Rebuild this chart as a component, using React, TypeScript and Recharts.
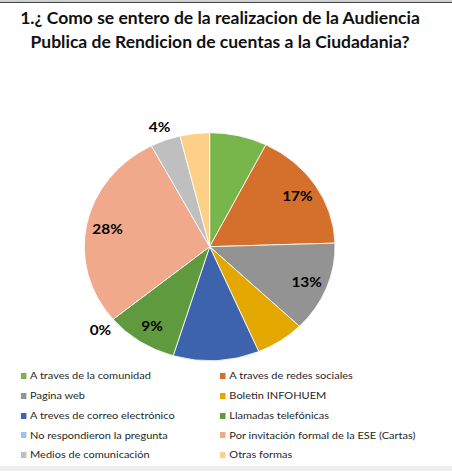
import { Legend, Pie, PieChart, Cell } from 'recharts';

const categories = [
  'A traves de la comunidad',
  'A traves de redes sociales',
  'Pagina web',
  'Boletin INFOHUEM',
  'A treves de correo electrónico',
  'Llamadas telefónicas',
  'No respondieron la pregunta',
  'Por invitación formal de la ESE (Cartas)',
  'Medios de comunicación',
  'Otras formas',
];
const values = [7.4, 17.1, 12.8, 6.3, 11.1, 9.3, 0, 28.3, 3.9, 3.8];
const showLabel = [false, true, true, false, false, true, true, true, true, false];
const colors = [
  '#78B54A', '#D4702B', '#939393', '#E2A800', '#3E63AD',
  '#5F9A3E', '#9DC3E6', '#F0A98A', '#BFBFBF', '#FDD088',
];

const data = categories.map((name, i) => ({ name, value: values[i] }));

const SX = 1.1; // the reference is stretched sideways
const RAD = Math.PI / 180;

const renderLabel = (props: any) => {
  const { cx, cy, midAngle, outerRadius, percent, index } = props;
  if (!showLabel[index]) return null;
  const k = percent < 0.05 ? 1.13 : 0.83;
  const x = cx + outerRadius * k * Math.cos(-midAngle * RAD);
  const y = cy + outerRadius * k * Math.sin(-midAngle * RAD);
  return (
    <text x={x} y={y} textAnchor="middle" dominantBaseline="central" fill="#000" fontSize={14} fontWeight={700} fontFamily="Lato">
      {`${Math.round(percent * 100)}%`}
    </text>
  );
};

const renderLegend = () => (
  <div style={{ position: 'relative', width: 411, height: 100, fontFamily: 'Lato', fontSize: 10, color: '#262626' }}>
    {categories.map((name, i) => (
      <div
        key={name}
        style={{
          position: 'absolute',
          left: i % 2 === 0 ? 18.8 : 200,
          top: Math.floor(i / 2) * 19.85,
          height: 19.8,
          lineHeight: '19.8px',
          whiteSpace: 'nowrap',
          display: 'flex',
          alignItems: 'center',
        }}
      >
        <span style={{ display: 'inline-block', width: 5, height: 6, background: colors[i], marginRight: 3.5 }} />
        {name}
      </div>
    ))}
  </div>
);

export default function App() {
  return (
    <div style={{ position: 'absolute', left: 0, top: 0, width: 452, height: 471, background: '#fff', overflow: 'hidden' }}>
      <div style={{ position: 'absolute', left: 0, top: 0, width: 452, height: 2, background: '#d0d0d0', borderBottom: '1px solid #444' }} />
      <div
        style={{
          position: 'absolute', left: 0, top: 6, width: 440, textAlign: 'center',
          fontFamily: 'Lato', fontWeight: 700, fontSize: 17.5, lineHeight: '24px', color: '#111',
        }}
      >
        1.¿ Como se entero de la realizacion de la Audiencia
        <br />
        Publica de Rendicion de cuentas a la Ciudadania?
      </div>
      <div style={{ position: 'absolute', left: 0, top: 0, width: 411, height: 471, transform: `scaleX(${SX})`, transformOrigin: '0 0' }}>
        <PieChart width={411} height={471} margin={{ top: 0, right: 0, bottom: 0, left: 0 }}>
          <Pie
            data={data}
            dataKey="value"
            nameKey="name"
            cx={190.6}
            cy={246.7}
            outerRadius={114}
            startAngle={90}
            endAngle={-270}
            stroke="#fff"
            strokeWidth={0.8}
            label={renderLabel}
            labelLine={false}
            isAnimationActive={false}
          >
            {data.map((d, i) => (
              <Cell key={d.name} fill={colors[i]} />
            ))}
          </Pie>
          <Legend content={renderLegend} wrapperStyle={{ position: 'absolute', left: 0, top: 366, width: 411 }} />
        </PieChart>
      </div>
      <div style={{ position: 'absolute', left: 0, top: 466, width: 452, height: 5, background: '#eeeeee' }} />
    </div>
  );
}
